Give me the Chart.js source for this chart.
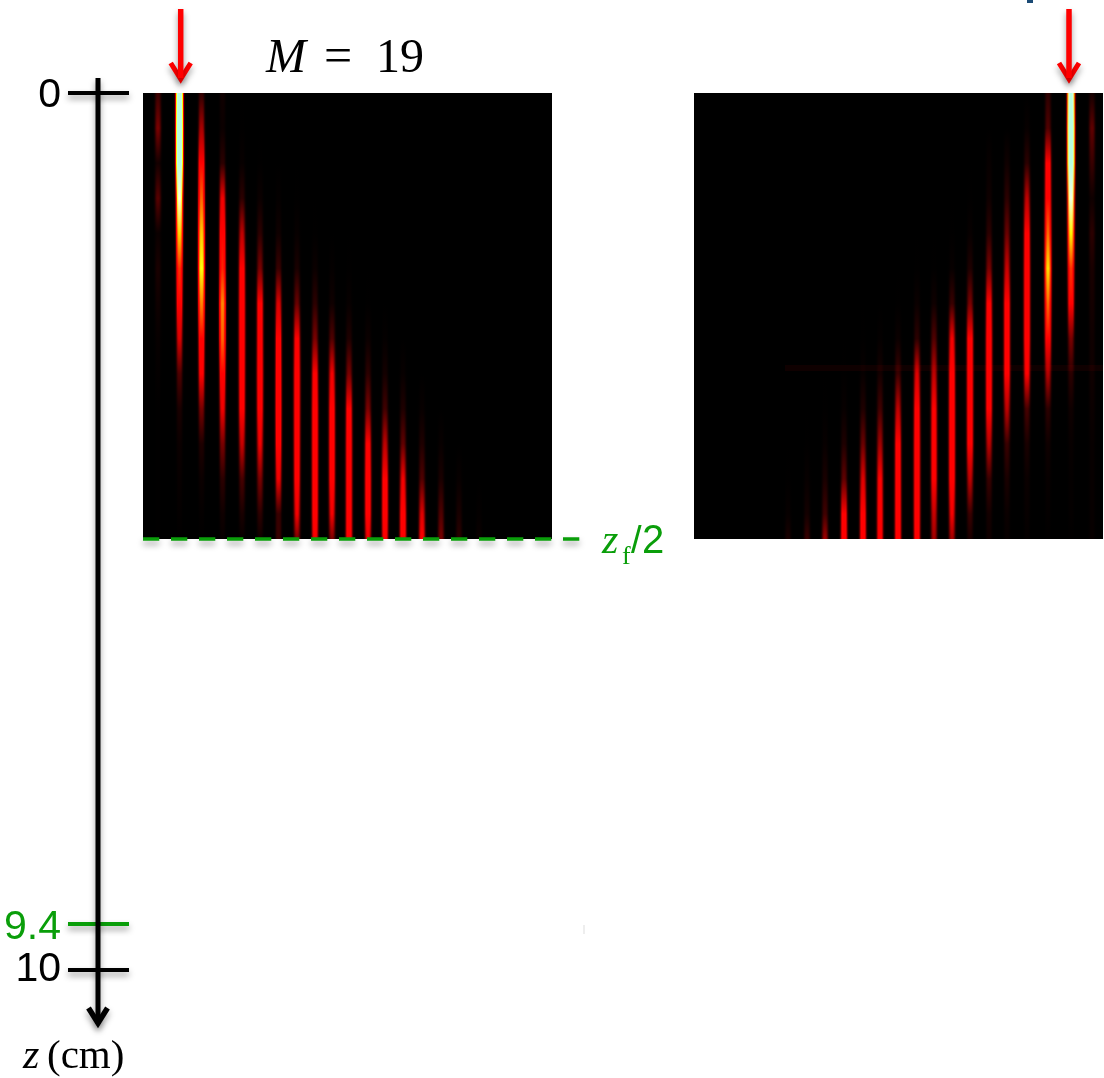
<!DOCTYPE html>
<html>
<head>
<meta charset="utf-8">
<style>html,body{margin:0;padding:0;background:#fff}#c{display:block}</style>
<script src="https://cdn.jsdelivr.net/npm/chart.js@4"></script>
</head>
<body>
<canvas id="c" width="1104" height="1078"></canvas>
<script>
// Sampling stations along the propagation axis (cm)
const stationsCm = [0,0.4,0.8,1.2,1.6,2.0,2.4,2.8,3.2,3.6,4.0,4.4,4.8,5.0855];
// Left panel: waveguide positions and peak intensity (0..1+) at each station
const leftX = [158,179.5,201.5,222.5,242,260,278.5,297,315,332,349,368,385,403,422,441,459,479];
const leftI = [
 [.12,.20,.06,.16,.04,.07,.05,.03,.02,.01,.01,.01,.01,.01],
 [1.5,1.6,1.5,1.0,.72,.52,.42,.30,.15,.07,.04,.03,.02,.01],
 [.10,.25,.46,.58,.70,.78,.62,.44,.36,.20,.08,.04,.02,.01],
 [.05,.04,.10,.32,.44,.50,.62,.58,.42,.32,.20,.10,.05,.03],
 [0,.01,.03,.10,.27,.40,.46,.46,.44,.40,.28,.14,.07,.03],
 [0,0,.01,.04,.10,.20,.40,.42,.46,.42,.32,.20,.10,.05],
 [0,0,0,.02,.05,.12,.30,.40,.44,.46,.42,.32,.12,.12],
 [0,0,0,.01,.03,.07,.18,.38,.46,.46,.44,.40,.32,.20],
 [0,0,0,0,.01,.04,.10,.20,.38,.46,.46,.44,.42,.36],
 [0,0,0,0,0,.02,.05,.15,.32,.40,.42,.40,.32,.20],
 [0,0,0,0,0,.01,.03,.08,.20,.40,.46,.46,.46,.46],
 [0,0,0,0,0,0,.01,.04,.10,.20,.38,.44,.42,.32],
 [0,0,0,0,0,0,0,.02,.06,.13,.27,.40,.42,.37],
 [0,0,0,0,0,0,0,0,.03,.08,.17,.32,.44,.46],
 [0,0,0,0,0,0,0,0,0,.03,.08,.15,.30,.36],
 [0,0,0,0,0,0,0,0,0,0,.03,.07,.15,.20],
 [0,0,0,0,0,0,0,0,0,0,0,.03,.07,.10],
 [0,0,0,0,0,0,0,0,0,0,0,0,.02,.04]
];
// Right panel
const rightX = [1092,1071,1048,1027,1007,989,970,952,934,917,898,880,863,844,825,807,788];
const rightI = [
 [.06,.17,.12,.05,.10,.07,.06,.05,.05,.04,.03,.03,.03,.03],
 [1.4,1.6,1.5,1.05,.75,.52,.40,.20,.10,.05,.03,.02,.02,.01],
 [.10,.15,.40,.46,.58,.72,.58,.44,.26,.10,.05,.03,.02,.01],
 [0,.03,.10,.27,.40,.46,.46,.46,.36,.14,.07,.04,.03,.02],
 [0,0,.05,.10,.18,.28,.42,.42,.42,.27,.12,.07,.04,.03],
 [0,0,.03,.05,.10,.20,.38,.46,.46,.42,.27,.12,.06,.05],
 [0,0,0,.01,.03,.08,.20,.44,.46,.46,.44,.27,.12,.07],
 [0,0,0,0,.01,.03,.12,.32,.42,.46,.46,.44,.32,.24],
 [0,0,0,0,0,.01,.05,.15,.27,.36,.38,.38,.28,.24],
 [0,0,0,0,0,.01,.04,.10,.30,.40,.46,.46,.46,.42],
 [0,0,0,0,0,0,.01,.04,.12,.27,.40,.42,.44,.44],
 [0,0,0,0,0,0,0,.02,.06,.13,.24,.35,.38,.38],
 [0,0,0,0,0,0,0,.01,.03,.08,.18,.30,.40,.42],
 [0,0,0,0,0,0,0,0,.01,.03,.08,.17,.40,.46],
 [0,0,0,0,0,0,0,0,0,.01,.03,.07,.13,.24],
 [0,0,0,0,0,0,0,0,0,0,.01,.03,.06,.12],
 [0,0,0,0,0,0,0,0,0,0,0,.01,.03,.07]
];
const tickValues = [0.028, 9.515, 10.0];
const tickLabels = ['0', '9.4', '10'];
const panelTitle = ['M', '=', '19'];
const focusLabel = ['z', 'f', '/', '2'];
const axisTitle = ['z', '(cm)'];

const GREEN = '#0a9e0a';
const PX_PER_CM = 87.7, TOP_PX = 93;
const toCm = p => (p - TOP_PX) / PX_PER_CM;
const panelBottom = stationsCm[stationsCm.length - 1];

function hot(I) {
  const cl = v => Math.max(0, Math.min(1, v));
  const r = 255 * Math.pow(cl(I / 0.33), 1.5) - 70 * cl((I - 1) / 0.3);
  const g = 255 * cl((I - 0.46) / 0.3);
  const b = 225 * cl((I - 0.76) / 0.24);
  return `rgb(${Math.round(r)},${Math.round(g)},${Math.round(b)})`;
}
// lateral beam profile: nested line widths and their relative intensity
const layerWidths = [13, 11, 9, 7, 5, 3, 1];
const layerProfile = [.01, .05, .2, .5, .82, .97, 1];

function streakDatasets(x, values) {
  return layerWidths.map((w, k) => ({
    data: [{x, y: stationsCm[0]}, {x, y: panelBottom}],
    borderWidth: w,
    order: 10 + w,
    borderColor: ctx => {
      const sc = ctx.chart.scales.y;
      if (!sc) return '#000';
      const a = sc.getPixelForValue(stationsCm[0]), b = sc.getPixelForValue(panelBottom);
      if (!isFinite(a) || !isFinite(b) || a === b) return '#000';
      const g = ctx.chart.ctx.createLinearGradient(0, a, 0, b);
      values.forEach((v, i) => {
        const t = (sc.getPixelForValue(stationsCm[i]) - a) / (b - a);
        g.addColorStop(Math.max(0, Math.min(1, t)), hot(v * layerProfile[k]));
      });
      return g;
    }
  }));
}
function path(points, color, width, extra) {
  return Object.assign({
    data: points.map(p => ({x: p[0], y: toCm(p[1])})),
    borderColor: color, borderWidth: width, order: 1,
    borderCapStyle: 'butt', borderJoinStyle: 'miter', shadow: true
  }, extra || {});
}

const datasets = [];
// black panels
[[143,552],[694,1103]].forEach(([a,b]) => {
  datasets.push({
    data: [{x:(a+b)/2, y:0},{x:(a+b)/2, y:panelBottom}],
    borderColor:'#000', borderWidth:b-a, order:100
  });
});
// faint horizontal band in right panel
datasets.push({data:[{x:785,y:toCm(368)},{x:1103,y:toCm(368)}],borderColor:'rgba(255,0,0,.06)',borderWidth:6,order:5});
leftX.forEach((x,i) => datasets.push(...streakDatasets(x,leftI[i])));
rightX.forEach((x,i) => datasets.push(...streakDatasets(x,rightI[i])));

// z axis with arrow head
datasets.push(path([[98,78],[98,1024]],'#000',5));
datasets.push(path([[88.5,1008],[98,1023],[107.5,1008]],'#000',5.5));
// ticks
datasets.push(path([[68,93],[129,93]],'#000',4));
datasets.push(path([[68,970],[129,970]],'#000',4));
datasets.push(path([[68,924],[129,924]],GREEN,4));
// red input arrows
[180.7,1069].forEach(x => {
  datasets.push(path([[x,9],[x,78]],'#f00',5.5));
  datasets.push(path([[x-10,63],[x,79],[x+10,63]],'#f00',5));
});
// dashed z_f/2 line
datasets.push(path([[143,539],[580,539]],GREEN,3.5,{borderDash:[16.3,11.7]}));
// small clipped navy mark at the top edge and faint speck
datasets.push(path([[1030,0],[1030,3]],'#1b4a75',6,{shadow:false}));
datasets.push(path([[584,925],[584,934]],'#eeeeee',2,{shadow:false}));

const extras = {
  id:'extras',
  beforeDatasetDraw(chart,args){
    const ds = chart.data.datasets[args.index];
    const c = chart.ctx; c.save();
    if (ds.shadow){c.shadowColor='rgba(0,0,0,.38)';c.shadowBlur=6;c.shadowOffsetY=4;}
  },
  afterDatasetDraw(chart){ chart.ctx.restore(); },
  afterDraw(chart){
    const c = chart.ctx, X = chart.scales.x, Y = chart.scales.y;
    const at = (txt,font,col,px,py)=>{
      c.font=font;c.fillStyle=col;c.textAlign='left';c.textBaseline='alphabetic';
      c.fillText(txt,X.getPixelForValue(px),Y.getPixelForValue(toCm(py)));
    };
    const serif='"Liberation Serif"', sans='"Liberation Sans"';
    at(panelTitle[0],`italic 48px ${serif}`,'#000',266,72);
    at(panelTitle[1],`50px ${serif}`,'#000',324,72);
    at(panelTitle[2],`48px ${serif}`,'#000',376,72);
    at(focusLabel[0],`italic 42px ${serif}`,GREEN,602,553);
    at(focusLabel[1],`26px ${serif}`,GREEN,622,564);
    at(focusLabel[2],`38px ${sans}`,GREEN,631,553);
    at(focusLabel[3],`40px ${sans}`,GREEN,642,553);
    at(axisTitle[0],`italic 42px ${serif}`,'#000',23,1068);
    at(axisTitle[1],`41px ${serif}`,'#000',47,1068);
  }
};

new Chart(document.getElementById('c'),{
  type:'line',
  data:{datasets},
  plugins:[extras],
  options:{
    responsive:false, animation:false, events:[],
    layout:{padding:0},
    elements:{point:{radius:0},line:{tension:0,borderCapStyle:'butt',fill:false}},
    datasets:{line:{clip:false}},
    plugins:{legend:{display:false},title:{display:false},tooltip:{enabled:false}},
    scales:{
      x:{type:'linear',display:false,min:62,max:1104},
      y:{
        type:'linear',reverse:true,
        min:toCm(0),max:toCm(1078),
        grid:{display:false,drawTicks:false},border:{display:false},
        afterBuildTicks:s=>{s.ticks=tickValues.map(value=>({value}));},
        afterFit:s=>{s.width=62;s.paddingTop=0;s.paddingBottom=0;},
        ticks:{
          autoSkip:false,padding:1,maxRotation:0,
          font:{family:'"Liberation Sans"',size:41},
          color:c=>c.index===1?GREEN:'#000',
          callback:(v,i)=>tickLabels[i]
        }
      }
    }
  }
});
</script>
</body>
</html>
